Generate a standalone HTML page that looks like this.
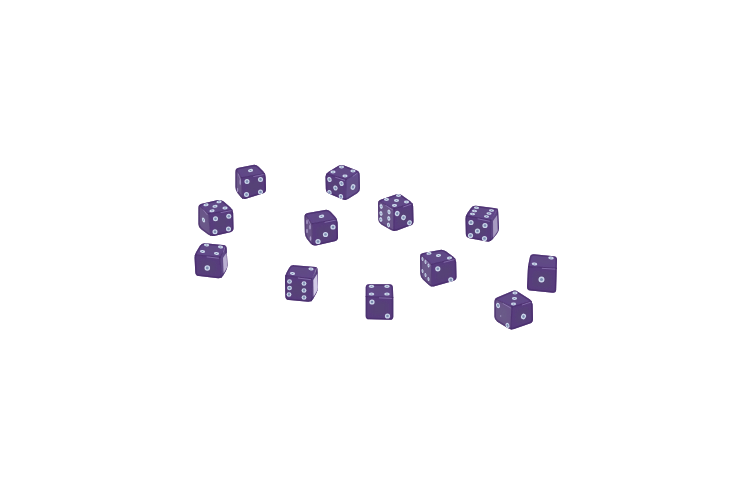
<!DOCTYPE html>
<html><head><meta charset="utf-8"><title>Purple dice</title>
<style>
html,body{margin:0;padding:0;background:#fff;}
body{width:750px;height:500px;overflow:hidden;font-family:"Liberation Sans",sans-serif;}
svg{display:block;}
</style></head><body>
<svg width="750" height="500" viewBox="0 0 750 500">
<defs><filter id="b" x="-5%" y="-5%" width="110%" height="110%"><feGaussianBlur stdDeviation="0.55"/></filter><filter id="b2" x="-30%" y="-30%" width="160%" height="160%"><feGaussianBlur stdDeviation="2"/></filter><filter id="b3" x="-40%" y="-20%" width="180%" height="140%"><feGaussianBlur stdDeviation="0.7"/></filter>
<clipPath id="c0"><path d="M235.40,171.91 Q235.40,168.51 238.73,167.84 L252.86,165.02 Q256.20,164.35 258.60,166.75 L263.19,171.34 Q265.59,173.74 265.69,177.14 L266.02,189.04 Q266.11,192.44 262.87,193.45 L246.03,198.69 Q242.78,199.70 240.69,197.01 L237.49,192.89 Q235.40,190.21 235.40,186.81 Z"/></clipPath>
<clipPath id="c1"><path d="M198.40,207.92 Q198.40,204.52 201.72,203.77 L217.85,200.10 Q221.16,199.35 223.73,201.58 L230.53,207.49 Q233.09,209.72 233.17,213.12 L233.53,228.08 Q233.61,231.48 230.30,232.23 L214.18,235.89 Q210.86,236.65 208.14,234.61 L201.12,229.34 Q198.40,227.30 198.40,223.90 Z"/></clipPath>
<clipPath id="c2"><path d="M194.56,258.24 Q194.39,254.85 196.16,251.94 L199.92,245.77 Q201.68,242.86 205.07,243.22 L223.19,245.10 Q226.58,245.46 226.73,248.85 L227.45,264.76 Q227.61,268.15 225.86,271.07 L223.06,275.73 Q221.31,278.64 217.94,278.24 L198.80,275.94 Q195.43,275.54 195.26,272.14 Z"/></clipPath>
<clipPath id="c3"><path d="M325.48,177.06 Q325.39,173.67 328.31,171.92 L338.03,166.08 Q340.94,164.33 344.11,165.57 L356.42,170.35 Q359.59,171.59 359.68,174.98 L360.02,187.92 Q360.11,191.32 357.25,193.16 L348.42,198.84 Q345.56,200.68 342.42,199.36 L329.04,193.72 Q325.91,192.40 325.82,189.00 Z"/></clipPath>
<clipPath id="c4"><path d="M304.47,216.90 Q304.39,213.50 307.74,212.91 L324.86,209.94 Q328.21,209.35 330.55,211.82 L335.26,216.79 Q337.59,219.25 337.68,222.65 L338.03,237.08 Q338.11,240.48 334.79,241.22 L316.08,245.42 Q312.76,246.17 310.66,243.50 L307.01,238.88 Q304.90,236.21 304.83,232.82 Z"/></clipPath>
<clipPath id="c5"><path d="M284.97,279.26 Q284.90,275.86 286.47,272.85 L289.07,267.88 Q290.65,264.87 294.04,265.14 L312.88,266.65 Q316.27,266.92 316.86,267.52 L317.00,267.65 Q317.59,268.25 317.67,271.64 L318.02,286.75 Q318.10,290.15 316.43,293.11 L313.00,299.18 Q311.33,302.14 307.95,301.80 L288.79,299.88 Q285.41,299.54 285.34,296.14 Z"/></clipPath>
<clipPath id="c6"><path d="M377.97,203.97 Q377.89,200.57 381.11,199.48 L395.88,194.43 Q399.10,193.33 401.88,195.29 L410.31,201.23 Q413.09,203.18 413.18,206.58 L413.53,221.02 Q413.61,224.41 410.42,225.59 L397.14,230.48 Q393.95,231.66 390.99,229.98 L381.37,224.53 Q378.41,222.85 378.33,219.46 Z"/></clipPath>
<clipPath id="c7"><path d="M465.48,219.22 Q465.40,215.82 467.35,213.03 L470.77,208.15 Q472.72,205.36 476.09,205.78 L493.90,208.01 Q497.28,208.43 497.64,208.79 L497.72,208.88 Q498.09,209.24 498.25,212.64 L498.95,227.80 Q499.11,231.20 496.97,233.84 L492.38,239.51 Q490.24,242.16 486.90,241.52 L469.25,238.14 Q465.91,237.50 465.83,234.10 Z"/></clipPath>
<clipPath id="c8"><path d="M419.96,256.90 Q419.89,253.50 423.24,252.90 L439.80,249.96 Q443.14,249.36 445.90,251.35 L453.33,256.70 Q456.09,258.69 456.18,262.09 L456.53,276.55 Q456.61,279.95 453.34,280.88 L434.61,286.23 Q431.34,287.17 428.82,284.89 L422.93,279.55 Q420.41,277.27 420.33,273.87 Z"/></clipPath>
<clipPath id="c9"><path d="M365.70,287.60 Q365.70,284.20 369.10,284.20 L389.41,284.20 Q392.81,284.20 392.93,287.60 L393.17,294.11 Q393.30,297.50 393.30,300.90 L393.30,316.40 Q393.30,319.80 389.90,319.74 L369.10,319.36 Q365.70,319.30 365.70,315.90 Z"/></clipPath>
<clipPath id="c10"><path d="M494.40,302.00 Q494.40,298.60 497.53,297.27 L511.93,291.15 Q515.06,289.82 517.91,291.67 L529.74,299.32 Q532.59,301.17 532.67,304.57 L533.03,319.02 Q533.11,322.42 529.90,323.54 L514.14,329.04 Q510.93,330.16 508.04,328.36 L497.28,321.63 Q494.40,319.83 494.40,316.43 Z"/></clipPath>
<clipPath id="c11"><path d="M530.26,290.40 Q526.88,290.04 527.03,286.64 L527.75,270.32 Q527.90,266.93 528.57,263.59 L529.85,257.18 Q530.52,253.85 533.90,254.18 L553.73,256.13 Q557.12,256.46 557.02,259.86 L556.18,289.77 Q556.08,293.17 552.70,292.80 Z"/></clipPath></defs>
<rect width="750" height="500" fill="#ffffff"/>
<g filter="url(#b)">
<g clip-path="url(#c0)">
<polygon points="235.16,168.26 256.30,164.04 265.81,173.55 241.50,177.77" fill="#62478a" stroke="#62478a" stroke-width="0.8" stroke-linejoin="round"/>
<polygon points="241.50,177.77 265.81,173.55 266.34,192.57 242.56,199.96" fill="#593d7e" stroke="#593d7e" stroke-width="0.8" stroke-linejoin="round"/>
<polygon points="235.16,168.26 241.50,177.77 242.56,199.96 235.16,190.45" fill="#6a5489" stroke="#6a5489" stroke-width="0.8" stroke-linejoin="round"/>
<polygon points="240.69,169.27 253.79,166.65 259.68,172.54 244.62,175.16" fill="#604e82" opacity="0.75" filter="url(#b2)"/>
<polygon points="246.27,180.89 261.34,178.26 261.67,190.06 246.93,194.64" fill="#574575" opacity="0.75" filter="url(#b2)"/>
<polygon points="236.47,174.29 240.40,180.18 241.05,193.94 236.47,188.04" fill="#6b5d88" opacity="0.75" filter="url(#b2)"/>
<line x1="265.81" y1="173.55" x2="241.50" y2="177.77" stroke="#3f2462" stroke-width="1.1" stroke-linecap="round" opacity="0.42"/>
<line x1="253.66" y1="176.56" x2="264.31" y2="174.45" stroke="#a592cc" stroke-width="0.8" stroke-linecap="round" opacity="0.7"/>
<line x1="235.16" y1="168.26" x2="241.50" y2="177.77" stroke="#3f2462" stroke-width="1.1" stroke-linecap="round" opacity="0.42"/>
<line x1="238.33" y1="173.92" x2="240.00" y2="178.67" stroke="#a592cc" stroke-width="0.8" stroke-linecap="round" opacity="0.7"/>
<line x1="241.50" y1="177.77" x2="242.56" y2="199.96" stroke="#3f2462" stroke-width="1.1" stroke-linecap="round" opacity="0.42"/>
<path d="M235.40,171.91 Q235.40,168.51 238.73,167.84 L252.86,165.02 Q256.20,164.35 258.60,166.75 L263.19,171.34 Q265.59,173.74 265.69,177.14 L266.02,189.04 Q266.11,192.44 262.87,193.45 L246.03,198.69 Q242.78,199.70 240.69,197.01 L237.49,192.89 Q235.40,190.21 235.40,186.81 Z" fill="none" stroke="#3f2462" stroke-width="3" opacity="0.5"/>
<ellipse cx="240.2" cy="182.0" rx="0.7" ry="3.2" fill="#b7aad6" opacity="0.8"/>
<ellipse cx="237.6" cy="190.0" rx="0.6" ry="2.2" fill="#b7aad6" opacity="0.8"/>
<g transform="translate(250.5 170.5) rotate(-8)"><ellipse rx="2.60" ry="1.58" fill="#cbd6ea"/><ellipse rx="0.90" ry="0.54" fill="#7b8cb0"/></g>
<g transform="translate(247.0 181.5) rotate(0)"><ellipse rx="2.51" ry="2.51" fill="#cbd6ea"/><ellipse rx="1.27" ry="1.27" fill="#7b8cb0"/></g>
<g transform="translate(260.5 179.5) rotate(0)"><ellipse rx="2.51" ry="2.51" fill="#cbd6ea"/><ellipse rx="1.27" ry="1.27" fill="#7b8cb0"/></g>
<g transform="translate(246.5 194.5) rotate(0)"><ellipse rx="2.51" ry="2.51" fill="#cbd6ea"/><ellipse rx="1.27" ry="1.27" fill="#7b8cb0"/></g>
<g transform="translate(260.5 192.0) rotate(0)"><ellipse rx="2.51" ry="2.51" fill="#cbd6ea"/><ellipse rx="1.27" ry="1.27" fill="#7b8cb0"/></g>
</g>
<g clip-path="url(#c1)">
<polygon points="198.13,204.33 221.26,199.07 233.35,209.59 208.64,213.79" fill="#62478a" stroke="#62478a" stroke-width="0.8" stroke-linejoin="round"/>
<polygon points="208.64,213.79 233.35,209.59 233.87,231.67 210.74,236.93" fill="#593d7e" stroke="#593d7e" stroke-width="0.8" stroke-linejoin="round"/>
<polygon points="198.13,204.33 208.64,213.79 210.74,236.93 198.13,227.46" fill="#6a5489" stroke="#6a5489" stroke-width="0.8" stroke-linejoin="round"/>
<polygon points="204.67,205.23 219.01,201.97 226.51,208.49 211.19,211.10" fill="#604e82" opacity="0.75" filter="url(#b2)"/>
<polygon points="213.58,217.29 228.90,214.68 229.23,228.37 214.89,231.63" fill="#574575" opacity="0.75" filter="url(#b2)"/>
<polygon points="200.32,210.52 206.84,216.39 208.15,230.73 200.32,224.87" fill="#6b5d88" opacity="0.75" filter="url(#b2)"/>
<line x1="233.35" y1="209.59" x2="208.64" y2="213.79" stroke="#3f2462" stroke-width="1.1" stroke-linecap="round" opacity="0.42"/>
<line x1="220.99" y1="212.59" x2="231.85" y2="210.49" stroke="#a592cc" stroke-width="0.8" stroke-linecap="round" opacity="0.7"/>
<line x1="198.13" y1="204.33" x2="208.64" y2="213.79" stroke="#3f2462" stroke-width="1.1" stroke-linecap="round" opacity="0.42"/>
<line x1="203.38" y1="209.96" x2="207.14" y2="214.69" stroke="#a592cc" stroke-width="0.8" stroke-linecap="round" opacity="0.7"/>
<line x1="208.64" y1="213.79" x2="210.74" y2="236.93" stroke="#3f2462" stroke-width="1.1" stroke-linecap="round" opacity="0.42"/>
<path d="M198.40,207.92 Q198.40,204.52 201.72,203.77 L217.85,200.10 Q221.16,199.35 223.73,201.58 L230.53,207.49 Q233.09,209.72 233.17,213.12 L233.53,228.08 Q233.61,231.48 230.30,232.23 L214.18,235.89 Q210.86,236.65 208.14,234.61 L201.12,229.34 Q198.40,227.30 198.40,223.90 Z" fill="none" stroke="#3f2462" stroke-width="3" opacity="0.5"/>
<g transform="translate(206.0 204.8) rotate(-8)"><ellipse rx="2.60" ry="1.40" fill="#cbd6ea"/><ellipse rx="0.90" ry="0.48" fill="#7b8cb0"/></g>
<g transform="translate(219.0 201.8) rotate(-8)"><ellipse rx="2.60" ry="1.40" fill="#cbd6ea"/><ellipse rx="0.90" ry="0.48" fill="#7b8cb0"/></g>
<g transform="translate(215.0 206.3) rotate(-8)"><ellipse rx="2.60" ry="1.40" fill="#cbd6ea"/><ellipse rx="0.90" ry="0.48" fill="#7b8cb0"/></g>
<g transform="translate(225.0 208.0) rotate(-8)"><ellipse rx="2.60" ry="1.40" fill="#cbd6ea"/><ellipse rx="0.90" ry="0.48" fill="#7b8cb0"/></g>
<g transform="translate(212.0 210.8) rotate(-8)"><ellipse rx="2.60" ry="1.40" fill="#cbd6ea"/><ellipse rx="0.90" ry="0.48" fill="#7b8cb0"/></g>
<g transform="translate(215.5 218.8) rotate(0)"><ellipse rx="2.51" ry="2.51" fill="#cbd6ea"/><ellipse rx="1.27" ry="1.27" fill="#7b8cb0"/></g>
<g transform="translate(228.8 216.2) rotate(0)"><ellipse rx="2.51" ry="2.51" fill="#cbd6ea"/><ellipse rx="1.27" ry="1.27" fill="#7b8cb0"/></g>
<g transform="translate(215.0 231.8) rotate(0)"><ellipse rx="2.51" ry="2.51" fill="#cbd6ea"/><ellipse rx="1.27" ry="1.27" fill="#7b8cb0"/></g>
<g transform="translate(228.5 229.0) rotate(0)"><ellipse rx="2.51" ry="2.51" fill="#cbd6ea"/><ellipse rx="1.27" ry="1.27" fill="#7b8cb0"/></g>
<g transform="translate(203.5 220.0) rotate(-20)"><ellipse rx="1.40" ry="2.60" fill="#cbd6ea"/><ellipse rx="0.48" ry="0.90" fill="#7b8cb0"/></g>
</g>
<g clip-path="url(#c2)">
<polygon points="201.51,242.57 226.81,245.20 219.96,257.32 194.13,254.69" fill="#62478a" stroke="#62478a" stroke-width="0.8" stroke-linejoin="round"/>
<polygon points="194.13,254.69 219.96,257.32 221.54,278.93 195.19,275.77" fill="#593d7e" stroke="#593d7e" stroke-width="0.8" stroke-linejoin="round"/>
<polygon points="219.96,257.32 226.81,245.20 227.87,268.39 221.54,278.93" fill="#604987" stroke="#604987" stroke-width="0.8" stroke-linejoin="round"/>
<polygon points="204.97,245.37 220.65,247.00 216.41,254.52 200.39,252.89" fill="#604e82" opacity="0.75" filter="url(#b2)"/>
<polygon points="199.29,259.25 215.30,260.88 216.28,274.28 199.94,272.32" fill="#574575" opacity="0.75" filter="url(#b2)"/>
<polygon points="221.51,259.28 225.76,251.76 226.41,266.14 222.49,272.67" fill="#604e82" opacity="0.75" filter="url(#b2)"/>
<line x1="219.96" y1="257.32" x2="194.13" y2="254.69" stroke="#3f2462" stroke-width="1.1" stroke-linecap="round" opacity="0.42"/>
<line x1="207.05" y1="256.91" x2="218.46" y2="258.22" stroke="#a592cc" stroke-width="0.8" stroke-linecap="round" opacity="0.7"/>
<line x1="226.81" y1="245.20" x2="219.96" y2="257.32" stroke="#3f2462" stroke-width="1.1" stroke-linecap="round" opacity="0.42"/>
<line x1="223.39" y1="252.16" x2="225.31" y2="246.10" stroke="#a592cc" stroke-width="0.8" stroke-linecap="round" opacity="0.7"/>
<line x1="219.96" y1="257.32" x2="221.54" y2="278.93" stroke="#3f2462" stroke-width="1.1" stroke-linecap="round" opacity="0.42"/>
<path d="M194.56,258.24 Q194.39,254.85 196.16,251.94 L199.92,245.77 Q201.68,242.86 205.07,243.22 L223.19,245.10 Q226.58,245.46 226.73,248.85 L227.45,264.76 Q227.61,268.15 225.86,271.07 L223.06,275.73 Q221.31,278.64 217.94,278.24 L198.80,275.94 Q195.43,275.54 195.26,272.14 Z" fill="none" stroke="#3f2462" stroke-width="3" opacity="0.5"/>
<polygon points="223.0,258.0 226.6,252.5 227.2,267.5 223.6,273.5" fill="#d9d2ec" opacity="0.75" filter="url(#b3)"/>
<g transform="translate(206.5 245.0) rotate(5)"><ellipse rx="2.60" ry="1.40" fill="#cbd6ea"/><ellipse rx="0.90" ry="0.48" fill="#7b8cb0"/></g>
<g transform="translate(220.5 247.0) rotate(5)"><ellipse rx="2.60" ry="1.40" fill="#cbd6ea"/><ellipse rx="0.90" ry="0.48" fill="#7b8cb0"/></g>
<g transform="translate(202.5 251.5) rotate(5)"><ellipse rx="2.60" ry="1.40" fill="#cbd6ea"/><ellipse rx="0.90" ry="0.48" fill="#7b8cb0"/></g>
<g transform="translate(216.5 253.5) rotate(5)"><ellipse rx="2.60" ry="1.40" fill="#cbd6ea"/><ellipse rx="0.90" ry="0.48" fill="#7b8cb0"/></g>
<g transform="translate(207.3 268.0) rotate(0)"><ellipse rx="2.79" ry="2.79" fill="#cbd6ea"/><ellipse rx="1.41" ry="1.41" fill="#7b8cb0"/></g>
</g>
<g clip-path="url(#c3)">
<polygon points="325.12,173.55 340.91,164.08 359.85,171.45 346.17,179.34" fill="#62478a" stroke="#62478a" stroke-width="0.8" stroke-linejoin="round"/>
<polygon points="325.12,173.55 346.17,179.34 345.64,200.92 325.65,192.50" fill="#593d7e" stroke="#593d7e" stroke-width="0.8" stroke-linejoin="round"/>
<polygon points="346.17,179.34 359.85,171.45 360.38,191.45 345.64,200.92" fill="#65508e" stroke="#65508e" stroke-width="0.8" stroke-linejoin="round"/>
<polygon points="331.92,173.00 341.71,167.13 353.45,171.70 344.97,176.59" fill="#604e82" opacity="0.75" filter="url(#b2)"/>
<polygon points="329.12,178.50 342.17,182.09 341.84,195.47 329.45,190.25" fill="#574575" opacity="0.75" filter="url(#b2)"/>
<polygon points="348.77,181.79 357.25,176.90 357.58,189.30 348.44,195.17" fill="#604f80" opacity="0.75" filter="url(#b2)"/>
<line x1="325.12" y1="173.55" x2="346.17" y2="179.34" stroke="#3f2462" stroke-width="1.1" stroke-linecap="round" opacity="0.42"/>
<line x1="335.65" y1="177.35" x2="344.67" y2="180.24" stroke="#a592cc" stroke-width="0.8" stroke-linecap="round" opacity="0.7"/>
<line x1="359.85" y1="171.45" x2="346.17" y2="179.34" stroke="#3f2462" stroke-width="1.1" stroke-linecap="round" opacity="0.42"/>
<line x1="353.01" y1="176.30" x2="358.35" y2="172.35" stroke="#a592cc" stroke-width="0.8" stroke-linecap="round" opacity="0.7"/>
<line x1="346.17" y1="179.34" x2="345.64" y2="200.92" stroke="#3f2462" stroke-width="1.1" stroke-linecap="round" opacity="0.42"/>
<path d="M325.48,177.06 Q325.39,173.67 328.31,171.92 L338.03,166.08 Q340.94,164.33 344.11,165.57 L356.42,170.35 Q359.59,171.59 359.68,174.98 L360.02,187.92 Q360.11,191.32 357.25,193.16 L348.42,198.84 Q345.56,200.68 342.42,199.36 L329.04,193.72 Q325.91,192.40 325.82,189.00 Z" fill="none" stroke="#3f2462" stroke-width="3" opacity="0.5"/>
<g transform="translate(341.5 167.0) rotate(0)"><ellipse rx="2.60" ry="1.49" fill="#cbd6ea"/><ellipse rx="0.90" ry="0.51" fill="#7b8cb0"/></g>
<g transform="translate(333.0 172.0) rotate(0)"><ellipse rx="2.60" ry="1.49" fill="#cbd6ea"/><ellipse rx="0.90" ry="0.51" fill="#7b8cb0"/></g>
<g transform="translate(353.0 171.0) rotate(0)"><ellipse rx="2.60" ry="1.49" fill="#cbd6ea"/><ellipse rx="0.90" ry="0.51" fill="#7b8cb0"/></g>
<g transform="translate(345.0 176.0) rotate(0)"><ellipse rx="2.60" ry="1.49" fill="#cbd6ea"/><ellipse rx="0.90" ry="0.51" fill="#7b8cb0"/></g>
<g transform="translate(329.5 179.5) rotate(-20)"><ellipse rx="2.14" ry="2.60" fill="#cbd6ea"/><ellipse rx="1.08" ry="1.32" fill="#7b8cb0"/></g>
<g transform="translate(341.5 183.5) rotate(-20)"><ellipse rx="2.14" ry="2.60" fill="#cbd6ea"/><ellipse rx="1.08" ry="1.32" fill="#7b8cb0"/></g>
<g transform="translate(335.5 188.0) rotate(-20)"><ellipse rx="2.14" ry="2.60" fill="#cbd6ea"/><ellipse rx="1.08" ry="1.32" fill="#7b8cb0"/></g>
<g transform="translate(329.5 192.5) rotate(-20)"><ellipse rx="2.14" ry="2.60" fill="#cbd6ea"/><ellipse rx="1.08" ry="1.32" fill="#7b8cb0"/></g>
<g transform="translate(341.0 196.5) rotate(-20)"><ellipse rx="2.14" ry="2.60" fill="#cbd6ea"/><ellipse rx="1.08" ry="1.32" fill="#7b8cb0"/></g>
<g transform="translate(353.0 187.0) rotate(20)"><ellipse rx="2.23" ry="2.98" fill="#cbd6ea"/><ellipse rx="1.13" ry="1.50" fill="#7b8cb0"/></g>
</g>
<g clip-path="url(#c4)">
<polygon points="304.14,213.27 328.36,209.06 337.83,219.06 312.04,223.80" fill="#62478a" stroke="#62478a" stroke-width="0.8" stroke-linejoin="round"/>
<polygon points="312.04,223.80 337.83,219.06 338.36,240.65 312.56,246.44" fill="#593d7e" stroke="#593d7e" stroke-width="0.8" stroke-linejoin="round"/>
<polygon points="304.14,213.27 312.04,223.80 312.56,246.44 304.67,236.44" fill="#6a5489" stroke="#6a5489" stroke-width="0.8" stroke-linejoin="round"/>
<polygon points="310.39,214.42 325.41,211.81 331.28,218.01 315.29,220.95" fill="#604e82" opacity="0.75" filter="url(#b2)"/>
<polygon points="317.04,227.10 333.03,224.16 333.36,237.55 317.36,241.14" fill="#574575" opacity="0.75" filter="url(#b2)"/>
<polygon points="305.74,219.62 310.64,226.15 310.96,240.19 306.07,233.99" fill="#6b5d88" opacity="0.75" filter="url(#b2)"/>
<line x1="337.83" y1="219.06" x2="312.04" y2="223.80" stroke="#3f2462" stroke-width="1.1" stroke-linecap="round" opacity="0.42"/>
<line x1="324.94" y1="222.33" x2="336.33" y2="219.96" stroke="#a592cc" stroke-width="0.8" stroke-linecap="round" opacity="0.7"/>
<line x1="304.14" y1="213.27" x2="312.04" y2="223.80" stroke="#3f2462" stroke-width="1.1" stroke-linecap="round" opacity="0.42"/>
<line x1="308.09" y1="219.44" x2="310.54" y2="224.70" stroke="#a592cc" stroke-width="0.8" stroke-linecap="round" opacity="0.7"/>
<line x1="312.04" y1="223.80" x2="312.56" y2="246.44" stroke="#3f2462" stroke-width="1.1" stroke-linecap="round" opacity="0.42"/>
<path d="M304.47,216.90 Q304.39,213.50 307.74,212.91 L324.86,209.94 Q328.21,209.35 330.55,211.82 L335.26,216.79 Q337.59,219.25 337.68,222.65 L338.03,237.08 Q338.11,240.48 334.79,241.22 L316.08,245.42 Q312.76,246.17 310.66,243.50 L307.01,238.88 Q304.90,236.21 304.83,232.82 Z" fill="none" stroke="#3f2462" stroke-width="3" opacity="0.5"/>
<ellipse cx="307.0" cy="222.0" rx="0.8" ry="2.2" fill="#b7aad6" opacity="0.8"/>
<ellipse cx="310.0" cy="227.0" rx="0.8" ry="2.5" fill="#b7aad6" opacity="0.8"/>
<ellipse cx="307.0" cy="231.0" rx="0.8" ry="2.2" fill="#b7aad6" opacity="0.8"/>
<ellipse cx="310.5" cy="238.5" rx="0.8" ry="2.2" fill="#b7aad6" opacity="0.8"/>
<g transform="translate(321.5 216.3) rotate(-8)"><ellipse rx="2.79" ry="1.67" fill="#cbd6ea"/><ellipse rx="0.96" ry="0.58" fill="#7b8cb0"/></g>
<g transform="translate(333.0 227.0) rotate(0)"><ellipse rx="2.60" ry="2.60" fill="#cbd6ea"/><ellipse rx="1.32" ry="1.32" fill="#7b8cb0"/></g>
<g transform="translate(325.5 234.5) rotate(0)"><ellipse rx="2.60" ry="2.60" fill="#cbd6ea"/><ellipse rx="1.32" ry="1.32" fill="#7b8cb0"/></g>
<g transform="translate(318.0 241.5) rotate(0)"><ellipse rx="2.60" ry="2.60" fill="#cbd6ea"/><ellipse rx="1.32" ry="1.32" fill="#7b8cb0"/></g>
</g>
<g clip-path="url(#c5)">
<polygon points="290.44,264.55 316.77,266.65 312.03,278.76 284.65,275.60" fill="#62478a" stroke="#62478a" stroke-width="0.8" stroke-linejoin="round"/>
<polygon points="284.65,275.60 312.03,278.76 311.50,302.45 285.18,299.82" fill="#593d7e" stroke="#593d7e" stroke-width="0.8" stroke-linejoin="round"/>
<polygon points="312.03,278.76 317.82,267.71 318.35,290.34 311.50,302.45" fill="#604987" stroke="#604987" stroke-width="0.8" stroke-linejoin="round"/>
<polygon points="294.45,267.15 310.77,268.45 307.83,275.96 290.85,274.00" fill="#604e82" opacity="0.75" filter="url(#b2)"/>
<polygon points="289.85,280.75 306.83,282.71 306.50,297.40 290.18,295.77" fill="#574575" opacity="0.75" filter="url(#b2)"/>
<polygon points="313.13,281.06 316.72,274.21 317.05,288.24 312.80,295.75" fill="#604e82" opacity="0.75" filter="url(#b2)"/>
<line x1="312.03" y1="278.76" x2="284.65" y2="275.60" stroke="#3f2462" stroke-width="1.1" stroke-linecap="round" opacity="0.42"/>
<line x1="298.34" y1="278.08" x2="310.53" y2="279.66" stroke="#a592cc" stroke-width="0.8" stroke-linecap="round" opacity="0.7"/>
<line x1="312.03" y1="278.76" x2="311.50" y2="302.45" stroke="#3f2462" stroke-width="1.1" stroke-linecap="round" opacity="0.42"/>
<path d="M284.97,279.26 Q284.90,275.86 286.47,272.85 L289.07,267.88 Q290.65,264.87 294.04,265.14 L312.88,266.65 Q316.27,266.92 316.86,267.52 L317.00,267.65 Q317.59,268.25 317.67,271.64 L318.02,286.75 Q318.10,290.15 316.43,293.11 L313.00,299.18 Q311.33,302.14 307.95,301.80 L288.79,299.88 Q285.41,299.54 285.34,296.14 Z" fill="none" stroke="#3f2462" stroke-width="3" opacity="0.5"/>
<polygon points="313.3,280.0 317.4,273.5 317.9,289.5 313.6,296.8" fill="#d9d2ec" opacity="0.95" filter="url(#b3)"/>
<g transform="translate(311.0 269.0) rotate(5)"><ellipse rx="2.60" ry="1.40" fill="#cbd6ea"/><ellipse rx="0.90" ry="0.48" fill="#7b8cb0"/></g>
<g transform="translate(292.5 273.5) rotate(5)"><ellipse rx="2.60" ry="1.40" fill="#cbd6ea"/><ellipse rx="0.90" ry="0.48" fill="#7b8cb0"/></g>
<g transform="translate(289.5 281.5) rotate(0)"><ellipse rx="2.42" ry="2.23" fill="#cbd6ea"/><ellipse rx="1.22" ry="1.13" fill="#7b8cb0"/></g>
<g transform="translate(304.0 283.5) rotate(0)"><ellipse rx="2.42" ry="2.23" fill="#cbd6ea"/><ellipse rx="1.22" ry="1.13" fill="#7b8cb0"/></g>
<g transform="translate(289.5 288.0) rotate(0)"><ellipse rx="2.42" ry="2.23" fill="#cbd6ea"/><ellipse rx="1.22" ry="1.13" fill="#7b8cb0"/></g>
<g transform="translate(304.0 290.5) rotate(0)"><ellipse rx="2.42" ry="2.23" fill="#cbd6ea"/><ellipse rx="1.22" ry="1.13" fill="#7b8cb0"/></g>
<g transform="translate(289.0 294.5) rotate(0)"><ellipse rx="2.42" ry="2.23" fill="#cbd6ea"/><ellipse rx="1.22" ry="1.13" fill="#7b8cb0"/></g>
<g transform="translate(304.0 297.5) rotate(0)"><ellipse rx="2.42" ry="2.23" fill="#cbd6ea"/><ellipse rx="1.22" ry="1.13" fill="#7b8cb0"/></g>
</g>
<g clip-path="url(#c6)">
<polygon points="377.63,200.42 399.16,193.07 413.34,203.05 393.91,208.82" fill="#62478a" stroke="#62478a" stroke-width="0.8" stroke-linejoin="round"/>
<polygon points="377.63,200.42 393.91,208.82 393.91,231.93 378.16,223.00" fill="#6a5489" stroke="#6a5489" stroke-width="0.8" stroke-linejoin="round"/>
<polygon points="393.91,208.82 413.34,203.05 413.87,224.58 393.91,231.93" fill="#593d7e" stroke="#593d7e" stroke-width="0.8" stroke-linejoin="round"/>
<polygon points="384.62,200.77 397.97,196.21 406.76,202.40 394.71,205.98" fill="#604e82" opacity="0.75" filter="url(#b2)"/>
<polygon points="380.77,206.36 390.87,211.57 390.87,225.89 381.10,220.36" fill="#6b5d88" opacity="0.75" filter="url(#b2)"/>
<polygon points="397.65,211.97 409.70,208.39 410.03,221.74 397.65,226.29" fill="#574575" opacity="0.75" filter="url(#b2)"/>
<line x1="377.63" y1="200.42" x2="393.91" y2="208.82" stroke="#3f2462" stroke-width="1.1" stroke-linecap="round" opacity="0.42"/>
<line x1="385.77" y1="205.52" x2="392.41" y2="209.72" stroke="#a592cc" stroke-width="0.8" stroke-linecap="round" opacity="0.7"/>
<line x1="413.34" y1="203.05" x2="393.91" y2="208.82" stroke="#3f2462" stroke-width="1.1" stroke-linecap="round" opacity="0.42"/>
<line x1="403.63" y1="206.84" x2="411.84" y2="203.95" stroke="#a592cc" stroke-width="0.8" stroke-linecap="round" opacity="0.7"/>
<line x1="393.91" y1="208.82" x2="393.91" y2="231.93" stroke="#3f2462" stroke-width="1.1" stroke-linecap="round" opacity="0.42"/>
<path d="M377.97,203.97 Q377.89,200.57 381.11,199.48 L395.88,194.43 Q399.10,193.33 401.88,195.29 L410.31,201.23 Q413.09,203.18 413.18,206.58 L413.53,221.02 Q413.61,224.41 410.42,225.59 L397.14,230.48 Q393.95,231.66 390.99,229.98 L381.37,224.53 Q378.41,222.85 378.33,219.46 Z" fill="none" stroke="#3f2462" stroke-width="3" opacity="0.5"/>
<g transform="translate(398.5 195.5) rotate(0)"><ellipse rx="2.60" ry="1.40" fill="#cbd6ea"/><ellipse rx="0.90" ry="0.48" fill="#7b8cb0"/></g>
<g transform="translate(386.5 199.5) rotate(0)"><ellipse rx="2.60" ry="1.40" fill="#cbd6ea"/><ellipse rx="0.90" ry="0.48" fill="#7b8cb0"/></g>
<g transform="translate(396.5 200.5) rotate(0)"><ellipse rx="2.60" ry="1.40" fill="#cbd6ea"/><ellipse rx="0.90" ry="0.48" fill="#7b8cb0"/></g>
<g transform="translate(406.5 202.0) rotate(0)"><ellipse rx="2.60" ry="1.40" fill="#cbd6ea"/><ellipse rx="0.90" ry="0.48" fill="#7b8cb0"/></g>
<g transform="translate(394.5 205.5) rotate(0)"><ellipse rx="2.60" ry="1.40" fill="#cbd6ea"/><ellipse rx="0.90" ry="0.48" fill="#7b8cb0"/></g>
<g transform="translate(381.2 206.5) rotate(-15)"><ellipse rx="1.49" ry="2.42" fill="#cbd6ea"/><ellipse rx="0.51" ry="0.83" fill="#7b8cb0"/></g>
<g transform="translate(389.0 212.0) rotate(-15)"><ellipse rx="1.49" ry="2.42" fill="#cbd6ea"/><ellipse rx="0.51" ry="0.83" fill="#7b8cb0"/></g>
<g transform="translate(381.0 213.5) rotate(-15)"><ellipse rx="1.49" ry="2.42" fill="#cbd6ea"/><ellipse rx="0.51" ry="0.83" fill="#7b8cb0"/></g>
<g transform="translate(388.8 218.5) rotate(-15)"><ellipse rx="1.49" ry="2.42" fill="#cbd6ea"/><ellipse rx="0.51" ry="0.83" fill="#7b8cb0"/></g>
<g transform="translate(380.8 219.5) rotate(-15)"><ellipse rx="1.49" ry="2.42" fill="#cbd6ea"/><ellipse rx="0.51" ry="0.83" fill="#7b8cb0"/></g>
<g transform="translate(388.5 225.0) rotate(-15)"><ellipse rx="1.49" ry="2.42" fill="#cbd6ea"/><ellipse rx="0.51" ry="0.83" fill="#7b8cb0"/></g>
<g transform="translate(397.2 213.5) rotate(20)"><ellipse rx="2.33" ry="2.60" fill="#cbd6ea"/><ellipse rx="1.17" ry="1.32" fill="#7b8cb0"/></g>
<g transform="translate(403.5 217.5) rotate(20)"><ellipse rx="2.33" ry="2.60" fill="#cbd6ea"/><ellipse rx="1.17" ry="1.32" fill="#7b8cb0"/></g>
<g transform="translate(409.5 222.8) rotate(20)"><ellipse rx="2.33" ry="2.60" fill="#cbd6ea"/><ellipse rx="1.17" ry="1.32" fill="#7b8cb0"/></g>
</g>
<g clip-path="url(#c7)">
<polygon points="472.51,205.06 497.78,208.22 490.94,220.33 465.14,215.59" fill="#62478a" stroke="#62478a" stroke-width="0.8" stroke-linejoin="round"/>
<polygon points="465.14,215.59 490.94,220.33 490.41,242.44 465.67,237.70" fill="#593d7e" stroke="#593d7e" stroke-width="0.8" stroke-linejoin="round"/>
<polygon points="490.94,220.33 498.31,208.75 499.36,231.38 490.41,242.44" fill="#604987" stroke="#604987" stroke-width="0.8" stroke-linejoin="round"/>
<polygon points="475.96,207.81 491.63,209.77 487.39,217.28 471.39,214.34" fill="#604e82" opacity="0.75" filter="url(#b2)"/>
<polygon points="470.04,220.69 486.04,223.63 485.71,237.34 470.37,234.40" fill="#574575" opacity="0.75" filter="url(#b2)"/>
<polygon points="492.39,222.38 496.96,215.20 497.61,229.23 492.06,236.09" fill="#604e82" opacity="0.75" filter="url(#b2)"/>
<line x1="490.94" y1="220.33" x2="465.14" y2="215.59" stroke="#3f2462" stroke-width="1.1" stroke-linecap="round" opacity="0.42"/>
<line x1="478.04" y1="218.86" x2="489.44" y2="221.23" stroke="#a592cc" stroke-width="0.8" stroke-linecap="round" opacity="0.7"/>
<line x1="490.94" y1="220.33" x2="490.41" y2="242.44" stroke="#3f2462" stroke-width="1.1" stroke-linecap="round" opacity="0.42"/>
<path d="M465.48,219.22 Q465.40,215.82 467.35,213.03 L470.77,208.15 Q472.72,205.36 476.09,205.78 L493.90,208.01 Q497.28,208.43 497.64,208.79 L497.72,208.88 Q498.09,209.24 498.25,212.64 L498.95,227.80 Q499.11,231.20 496.97,233.84 L492.38,239.51 Q490.24,242.16 486.90,241.52 L469.25,238.14 Q465.91,237.50 465.83,234.10 Z" fill="none" stroke="#3f2462" stroke-width="3" opacity="0.5"/>
<polygon points="493.0,221.0 497.2,215.0 497.8,231.0 493.2,238.0" fill="#d9d2ec" opacity="0.60" filter="url(#b3)"/>
<g transform="translate(476.5 207.8) rotate(5)"><ellipse rx="2.60" ry="1.21" fill="#cbd6ea"/><ellipse rx="0.90" ry="0.42" fill="#7b8cb0"/></g>
<g transform="translate(474.5 211.0) rotate(5)"><ellipse rx="2.60" ry="1.21" fill="#cbd6ea"/><ellipse rx="0.90" ry="0.42" fill="#7b8cb0"/></g>
<g transform="translate(472.5 214.0) rotate(5)"><ellipse rx="2.60" ry="1.21" fill="#cbd6ea"/><ellipse rx="0.90" ry="0.42" fill="#7b8cb0"/></g>
<g transform="translate(491.5 210.5) rotate(5)"><ellipse rx="2.60" ry="1.21" fill="#cbd6ea"/><ellipse rx="0.90" ry="0.42" fill="#7b8cb0"/></g>
<g transform="translate(489.0 213.5) rotate(5)"><ellipse rx="2.60" ry="1.21" fill="#cbd6ea"/><ellipse rx="0.90" ry="0.42" fill="#7b8cb0"/></g>
<g transform="translate(486.5 216.5) rotate(5)"><ellipse rx="2.60" ry="1.21" fill="#cbd6ea"/><ellipse rx="0.90" ry="0.42" fill="#7b8cb0"/></g>
<g transform="translate(471.0 222.5) rotate(0)"><ellipse rx="2.60" ry="2.60" fill="#cbd6ea"/><ellipse rx="1.32" ry="1.32" fill="#7b8cb0"/></g>
<g transform="translate(485.0 225.5) rotate(0)"><ellipse rx="2.60" ry="2.60" fill="#cbd6ea"/><ellipse rx="1.32" ry="1.32" fill="#7b8cb0"/></g>
<g transform="translate(477.5 231.0) rotate(0)"><ellipse rx="2.60" ry="2.60" fill="#cbd6ea"/><ellipse rx="1.32" ry="1.32" fill="#7b8cb0"/></g>
<g transform="translate(470.5 235.5) rotate(0)"><ellipse rx="2.60" ry="2.60" fill="#cbd6ea"/><ellipse rx="1.32" ry="1.32" fill="#7b8cb0"/></g>
<g transform="translate(484.5 238.5) rotate(0)"><ellipse rx="2.60" ry="2.60" fill="#cbd6ea"/><ellipse rx="1.32" ry="1.32" fill="#7b8cb0"/></g>
</g>
<g clip-path="url(#c8)">
<polygon points="419.61,253.29 443.24,249.09 456.36,258.54 431.69,264.31" fill="#62478a" stroke="#62478a" stroke-width="0.8" stroke-linejoin="round"/>
<polygon points="431.69,264.31 456.36,258.54 456.89,280.06 431.16,287.41" fill="#593d7e" stroke="#593d7e" stroke-width="0.8" stroke-linejoin="round"/>
<polygon points="419.61,253.29 431.69,264.31 431.16,287.41 420.14,277.44" fill="#6a5489" stroke="#6a5489" stroke-width="0.8" stroke-linejoin="round"/>
<polygon points="426.50,254.43 441.14,251.83 449.28,257.69 433.98,261.27" fill="#604e82" opacity="0.75" filter="url(#b2)"/>
<polygon points="436.38,267.45 451.67,263.87 452.00,277.22 436.05,281.78" fill="#574575" opacity="0.75" filter="url(#b2)"/>
<polygon points="421.91,259.87 429.39,266.71 429.07,281.03 422.23,274.84" fill="#6b5d88" opacity="0.75" filter="url(#b2)"/>
<line x1="456.36" y1="258.54" x2="431.69" y2="264.31" stroke="#3f2462" stroke-width="1.1" stroke-linecap="round" opacity="0.42"/>
<line x1="444.02" y1="262.32" x2="454.86" y2="259.44" stroke="#a592cc" stroke-width="0.8" stroke-linecap="round" opacity="0.7"/>
<line x1="419.61" y1="253.29" x2="431.69" y2="264.31" stroke="#3f2462" stroke-width="1.1" stroke-linecap="round" opacity="0.42"/>
<line x1="425.65" y1="259.70" x2="430.19" y2="265.21" stroke="#a592cc" stroke-width="0.8" stroke-linecap="round" opacity="0.7"/>
<line x1="431.69" y1="264.31" x2="431.16" y2="287.41" stroke="#3f2462" stroke-width="1.1" stroke-linecap="round" opacity="0.42"/>
<path d="M419.96,256.90 Q419.89,253.50 423.24,252.90 L439.80,249.96 Q443.14,249.36 445.90,251.35 L453.33,256.70 Q456.09,258.69 456.18,262.09 L456.53,276.55 Q456.61,279.95 453.34,280.88 L434.61,286.23 Q431.34,287.17 428.82,284.89 L422.93,279.55 Q420.41,277.27 420.33,273.87 Z" fill="none" stroke="#3f2462" stroke-width="3" opacity="0.5"/>
<g transform="translate(429.0 253.4) rotate(-5)"><ellipse rx="2.60" ry="1.40" fill="#cbd6ea"/><ellipse rx="0.90" ry="0.48" fill="#7b8cb0"/></g>
<g transform="translate(438.5 255.5) rotate(-5)"><ellipse rx="2.60" ry="1.40" fill="#cbd6ea"/><ellipse rx="0.90" ry="0.48" fill="#7b8cb0"/></g>
<g transform="translate(449.5 258.0) rotate(-5)"><ellipse rx="2.60" ry="1.40" fill="#cbd6ea"/><ellipse rx="0.90" ry="0.48" fill="#7b8cb0"/></g>
<g transform="translate(437.8 268.8) rotate(0)"><ellipse rx="2.60" ry="2.60" fill="#cbd6ea"/><ellipse rx="1.32" ry="1.32" fill="#7b8cb0"/></g>
<g transform="translate(450.8 279.8) rotate(0)"><ellipse rx="2.60" ry="2.60" fill="#cbd6ea"/><ellipse rx="1.32" ry="1.32" fill="#7b8cb0"/></g>
<g transform="translate(422.5 259.0) rotate(-10)"><ellipse rx="0.93" ry="2.05" fill="#cbd6ea"/><ellipse rx="0.32" ry="0.70" fill="#7b8cb0"/></g>
<g transform="translate(425.5 262.0) rotate(-10)"><ellipse rx="0.93" ry="2.05" fill="#cbd6ea"/><ellipse rx="0.32" ry="0.70" fill="#7b8cb0"/></g>
<g transform="translate(428.5 265.5) rotate(-10)"><ellipse rx="0.93" ry="2.05" fill="#cbd6ea"/><ellipse rx="0.32" ry="0.70" fill="#7b8cb0"/></g>
<g transform="translate(422.5 271.0) rotate(-10)"><ellipse rx="0.93" ry="2.05" fill="#cbd6ea"/><ellipse rx="0.32" ry="0.70" fill="#7b8cb0"/></g>
<g transform="translate(425.5 275.0) rotate(-10)"><ellipse rx="0.93" ry="2.05" fill="#cbd6ea"/><ellipse rx="0.32" ry="0.70" fill="#7b8cb0"/></g>
<g transform="translate(428.5 279.0) rotate(-10)"><ellipse rx="0.93" ry="2.05" fill="#cbd6ea"/><ellipse rx="0.32" ry="0.70" fill="#7b8cb0"/></g>
</g>
<g clip-path="url(#c9)">
<polygon points="365.41,283.89 393.08,283.89 393.59,297.47 365.41,296.47" fill="#62478a" stroke="#62478a" stroke-width="0.8" stroke-linejoin="round"/>
<polygon points="365.41,296.47 393.59,297.47 393.59,320.11 365.41,319.61" fill="#593d7e" stroke="#593d7e" stroke-width="0.8" stroke-linejoin="round"/>
<polygon points="370.72,286.37 387.87,286.37 388.19,294.80 370.72,294.17" fill="#604e82" opacity="0.75" filter="url(#b2)"/>
<polygon points="370.77,301.01 388.23,301.63 388.23,315.67 370.77,315.36" fill="#574575" opacity="0.75" filter="url(#b2)"/>
<line x1="393.59" y1="297.47" x2="365.41" y2="296.47" stroke="#3f2462" stroke-width="1.1" stroke-linecap="round" opacity="0.42"/>
<line x1="379.50" y1="297.87" x2="392.09" y2="298.37" stroke="#a592cc" stroke-width="0.8" stroke-linecap="round" opacity="0.7"/>
<path d="M365.70,287.60 Q365.70,284.20 369.10,284.20 L389.41,284.20 Q392.81,284.20 392.93,287.60 L393.17,294.11 Q393.30,297.50 393.30,300.90 L393.30,316.40 Q393.30,319.80 389.90,319.74 L369.10,319.36 Q365.70,319.30 365.70,315.90 Z" fill="none" stroke="#3f2462" stroke-width="3" opacity="0.5"/>
<g transform="translate(371.5 286.3) rotate(0)"><ellipse rx="2.79" ry="1.58" fill="#cbd6ea"/><ellipse rx="0.96" ry="0.54" fill="#7b8cb0"/></g>
<g transform="translate(387.0 286.3) rotate(0)"><ellipse rx="2.79" ry="1.58" fill="#cbd6ea"/><ellipse rx="0.96" ry="0.54" fill="#7b8cb0"/></g>
<g transform="translate(371.5 294.0) rotate(0)"><ellipse rx="2.79" ry="1.58" fill="#cbd6ea"/><ellipse rx="0.96" ry="0.54" fill="#7b8cb0"/></g>
<g transform="translate(387.0 294.0) rotate(0)"><ellipse rx="2.79" ry="1.58" fill="#cbd6ea"/><ellipse rx="0.96" ry="0.54" fill="#7b8cb0"/></g>
<g transform="translate(372.0 302.0) rotate(0)"><ellipse rx="2.60" ry="2.60" fill="#cbd6ea"/><ellipse rx="1.32" ry="1.32" fill="#7b8cb0"/></g>
<g transform="translate(387.5 316.0) rotate(0)"><ellipse rx="2.60" ry="2.60" fill="#cbd6ea"/><ellipse rx="1.32" ry="1.32" fill="#7b8cb0"/></g>
</g>
<g clip-path="url(#c10)">
<polygon points="494.12,298.48 515.06,289.58 532.86,301.10 511.92,306.86" fill="#62478a" stroke="#62478a" stroke-width="0.8" stroke-linejoin="round"/>
<polygon points="494.12,298.48 511.92,306.86 510.87,330.42 494.12,319.95" fill="#6a5489" stroke="#6a5489" stroke-width="0.8" stroke-linejoin="round"/>
<polygon points="511.92,306.86 532.86,301.10 533.38,322.56 510.87,330.42" fill="#593d7e" stroke="#593d7e" stroke-width="0.8" stroke-linejoin="round"/>
<polygon points="501.48,298.68 514.46,293.16 525.50,300.30 512.51,303.87" fill="#604e82" opacity="0.75" filter="url(#b2)"/>
<polygon points="497.40,304.35 508.44,309.54 507.79,324.15 497.40,317.66" fill="#6b5d88" opacity="0.75" filter="url(#b2)"/>
<polygon points="515.85,310.04 528.83,306.47 529.15,319.78 515.20,324.65" fill="#574575" opacity="0.75" filter="url(#b2)"/>
<line x1="494.12" y1="298.48" x2="511.92" y2="306.86" stroke="#3f2462" stroke-width="1.1" stroke-linecap="round" opacity="0.42"/>
<line x1="503.02" y1="303.57" x2="510.42" y2="307.76" stroke="#a592cc" stroke-width="0.8" stroke-linecap="round" opacity="0.7"/>
<line x1="532.86" y1="301.10" x2="511.92" y2="306.86" stroke="#3f2462" stroke-width="1.1" stroke-linecap="round" opacity="0.42"/>
<line x1="522.39" y1="304.88" x2="531.36" y2="302.00" stroke="#a592cc" stroke-width="0.8" stroke-linecap="round" opacity="0.7"/>
<line x1="511.92" y1="306.86" x2="510.87" y2="330.42" stroke="#3f2462" stroke-width="1.1" stroke-linecap="round" opacity="0.42"/>
<path d="M494.40,302.00 Q494.40,298.60 497.53,297.27 L511.93,291.15 Q515.06,289.82 517.91,291.67 L529.74,299.32 Q532.59,301.17 532.67,304.57 L533.03,319.02 Q533.11,322.42 529.90,323.54 L514.14,329.04 Q510.93,330.16 508.04,328.36 L497.28,321.63 Q494.40,319.83 494.40,316.43 Z" fill="none" stroke="#3f2462" stroke-width="3" opacity="0.5"/>
<ellipse cx="500.7" cy="316.0" rx="0.7" ry="0.7" fill="#b7aad6" opacity="0.8"/>
<g transform="translate(515.0 293.0) rotate(0)"><ellipse rx="2.60" ry="1.49" fill="#cbd6ea"/><ellipse rx="0.90" ry="0.51" fill="#7b8cb0"/></g>
<g transform="translate(514.5 298.5) rotate(0)"><ellipse rx="2.60" ry="1.49" fill="#cbd6ea"/><ellipse rx="0.90" ry="0.51" fill="#7b8cb0"/></g>
<g transform="translate(513.5 304.0) rotate(0)"><ellipse rx="2.60" ry="1.49" fill="#cbd6ea"/><ellipse rx="0.90" ry="0.51" fill="#7b8cb0"/></g>
<g transform="translate(498.0 305.5) rotate(-20)"><ellipse rx="1.86" ry="2.79" fill="#cbd6ea"/><ellipse rx="0.94" ry="1.41" fill="#7b8cb0"/></g>
<g transform="translate(507.5 325.5) rotate(-20)"><ellipse rx="1.86" ry="2.79" fill="#cbd6ea"/><ellipse rx="0.94" ry="1.41" fill="#7b8cb0"/></g>
<g transform="translate(523.5 316.5) rotate(25)"><ellipse rx="2.42" ry="2.88" fill="#cbd6ea"/><ellipse rx="1.22" ry="1.46" fill="#7b8cb0"/></g>
</g>
<g clip-path="url(#c11)">
<polygon points="530.41,253.48 557.28,256.11 556.75,268.23 527.77,266.65" fill="#62478a" stroke="#62478a" stroke-width="0.8" stroke-linejoin="round"/>
<polygon points="527.77,266.65 556.75,268.23 556.23,293.52 526.72,290.36" fill="#593d7e" stroke="#593d7e" stroke-width="0.8" stroke-linejoin="round"/>
<polygon points="535.21,256.38 551.87,258.02 551.55,265.53 533.58,264.55" fill="#604e82" opacity="0.75" filter="url(#b2)"/>
<polygon points="533.13,271.61 551.10,272.59 550.77,288.27 532.48,286.31" fill="#574575" opacity="0.75" filter="url(#b2)"/>
<line x1="556.75" y1="268.23" x2="527.77" y2="266.65" stroke="#3f2462" stroke-width="1.1" stroke-linecap="round" opacity="0.42"/>
<line x1="542.26" y1="268.34" x2="555.25" y2="269.13" stroke="#a592cc" stroke-width="0.8" stroke-linecap="round" opacity="0.7"/>
<path d="M530.26,290.40 Q526.88,290.04 527.03,286.64 L527.75,270.32 Q527.90,266.93 528.57,263.59 L529.85,257.18 Q530.52,253.85 533.90,254.18 L553.73,256.13 Q557.12,256.46 557.02,259.86 L556.18,289.77 Q556.08,293.17 552.70,292.80 Z" fill="none" stroke="#3f2462" stroke-width="3" opacity="0.5"/>
<g transform="translate(551.0 258.0) rotate(5)"><ellipse rx="2.79" ry="1.40" fill="#cbd6ea"/><ellipse rx="0.96" ry="0.48" fill="#7b8cb0"/></g>
<g transform="translate(534.5 264.0) rotate(5)"><ellipse rx="2.79" ry="1.40" fill="#cbd6ea"/><ellipse rx="0.96" ry="0.48" fill="#7b8cb0"/></g>
<g transform="translate(541.5 279.5) rotate(0)"><ellipse rx="2.98" ry="2.98" fill="#cbd6ea"/><ellipse rx="1.50" ry="1.50" fill="#7b8cb0"/></g>
</g>
</g>
</svg>
</body></html>
